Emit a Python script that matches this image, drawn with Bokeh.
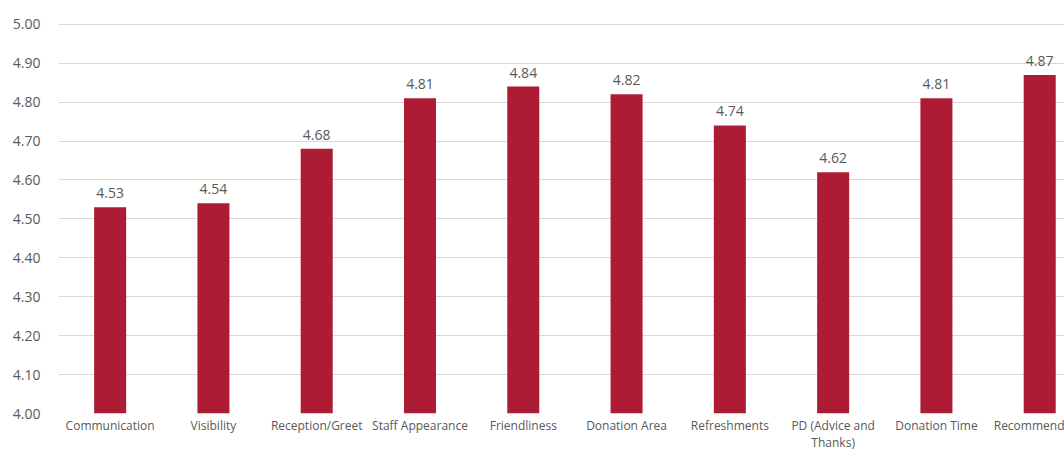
from bokeh.plotting import figure
from bokeh.models import ColumnDataSource, FixedTicker, Range1d, LabelSet
from bokeh.core.properties import value
from bokeh.embed import file_html
from bokeh.resources import INLINE

categories = ["Communication", "Visibility", "Reception/Greet", "Staff Appearance",
              "Friendliness", "Donation Area", "Refreshments", "PD (Advice and\nThanks)",
              "Donation Time", "Recommend"]
values = [4.53, 4.54, 4.68, 4.81, 4.84, 4.82, 4.74, 4.62, 4.81, 4.87]
y_ticks = [4.0, 4.1, 4.2, 4.3, 4.4, 4.5, 4.6, 4.7, 4.8, 4.9, 5.0]

xs = list(range(len(categories)))
src = ColumnDataSource(dict(x=xs, top=values, lab=[f"{v:.2f}" for v in values]))

p = figure(width=1064, height=453, output_backend="svg", toolbar_location=None,
           x_range=Range1d(-0.5, 9.24), y_range=Range1d(4.0, 5.002),
           min_border_left=58, min_border_right=0, min_border_top=23, min_border_bottom=40)
p.outline_line_color = None
p.background_fill_color = "white"

p.vbar(x="x", top="top", bottom=4.0, width=0.31, source=src,
       fill_color="#AC1D35", line_color=None)

labels = LabelSet(x="x", y="top", text="lab", source=src, text_align="center",
                  text_baseline="bottom", y_offset=9, text_font=value("Open Sans"),
                  text_font_size="14px", text_color="#595959")
p.add_layout(labels)

p.xgrid.grid_line_color = None
p.ygrid.grid_line_color = "#d9d9d9"
p.ygrid.ticker = FixedTicker(ticks=y_ticks)

p.yaxis.ticker = FixedTicker(ticks=y_ticks)
p.yaxis.major_label_overrides = {t: f"{t:.2f}" for t in y_ticks}
p.xaxis.ticker = FixedTicker(ticks=xs)
p.xaxis.major_label_overrides = {i: c for i, c in enumerate(categories)}

for ax in (p.xaxis[0], p.yaxis[0]):
    ax.axis_line_color = None
    ax.major_tick_line_color = None
    ax.minor_tick_line_color = None
    ax.major_tick_out = 0
    ax.major_tick_in = 0
    ax.axis_label_standoff = 0
    ax.major_label_text_font = "Open Sans"
    ax.major_label_text_color = "#595959"
p.yaxis.major_label_text_font_size = "14px"
p.xaxis.major_label_text_font_size = "12px"
p.xaxis.major_label_text_line_height = 1.0
p.yaxis.major_label_standoff = 18
p.xaxis.major_label_standoff = 3

open("out.html", "w").write(file_html(p, INLINE))
